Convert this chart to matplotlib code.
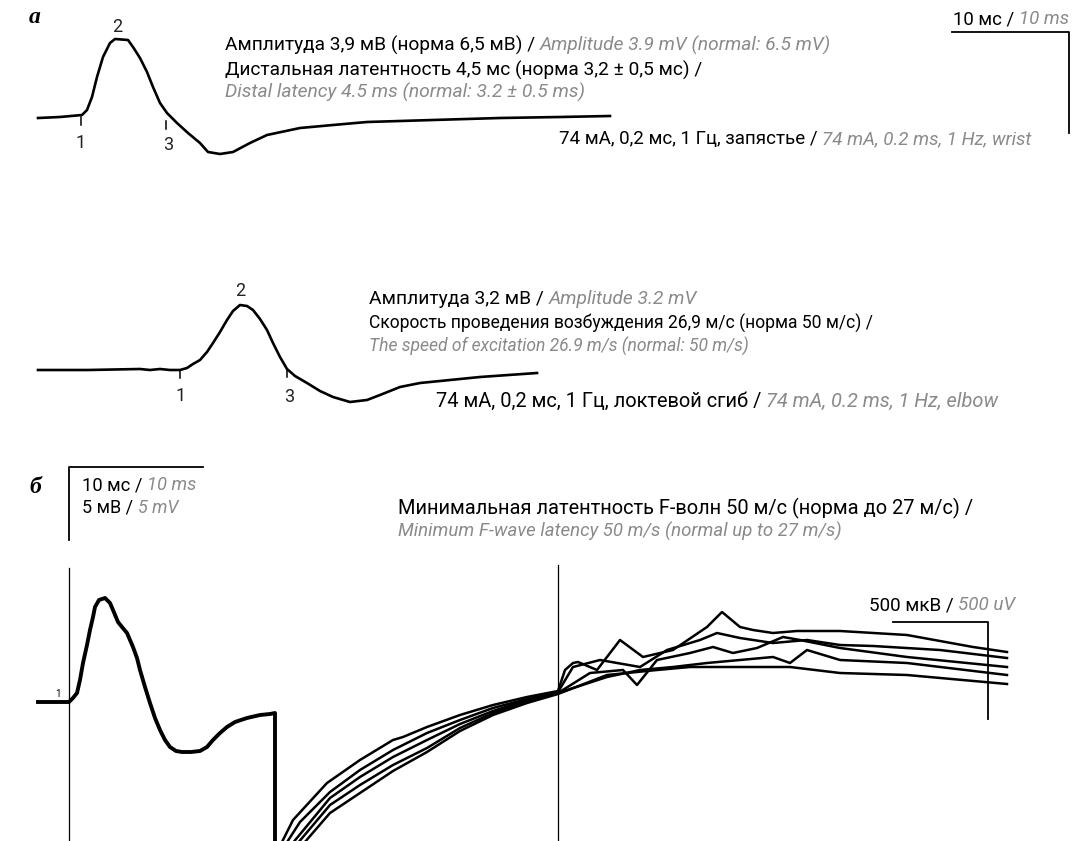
"""ENMG figure: motor responses (a) and F-waves (б)."""

import matplotlib
matplotlib.use("Agg")
import matplotlib.pyplot as plt

W, H = 1073, 841
FONT = ["Roboto", "DejaVu Sans"]
SERIF = ["Liberation Serif", "DejaVu Serif"]
GRAY = "#8a8a8a"
BASE_SIZE = 13.6

# --- panel a, stimulation at wrist (time axis in px, amplitude in px, y down)
wrist_x = [38, 60, 82, 87, 92, 97, 103, 110, 115, 128, 133, 140, 147, 153, 160, 167,
           177, 188, 200, 208, 220, 233, 250, 267, 300, 333, 367, 400, 433, 500, 560, 610]
wrist_y = [118, 117, 115, 110, 97, 77, 57, 43, 39, 40, 47, 58, 72, 87, 103, 113,
           123, 133, 143, 152, 154, 152, 143, 135, 128, 125, 122, 121, 120, 118, 117, 116]
wrist_marks_x = [81, 166]
wrist_marks_y = [117, 121]

# --- panel a, stimulation at elbow
elbow_x = [38, 88, 140, 150, 160, 170, 180, 187, 193, 200, 207, 213, 220, 227, 233, 240,
           247, 253, 260, 267, 273, 280, 287, 295, 307, 320, 333, 350, 367, 380, 400, 420,
           440, 480, 537]
elbow_y = [370, 370, 369, 370, 369, 370, 370, 368, 364, 360, 352, 343, 332, 320, 311, 305,
           306, 310, 319, 330, 343, 357, 369, 376, 383, 391, 397, 402, 400, 395, 387, 383,
           381, 377, 373]
elbow_marks_x = [180, 287]
elbow_marks_y = [370, 369]

# --- panel б, M-response
m_x = [38, 55, 69, 73, 77, 80, 83, 87, 90, 93, 95, 99, 105, 110, 113, 118, 122, 127,
       133, 137, 140, 145, 150, 155, 160, 165, 170, 176, 182, 191, 200, 207, 213, 220,
       227, 235, 247, 260, 270, 275, 275]
m_y = [702, 702, 702, 698, 693, 680, 663, 645, 630, 617, 607, 600, 598, 603, 610, 622,
       627, 633, 647, 658, 670, 687, 703, 718, 730, 740, 747, 751, 752, 752, 751, 747,
       740, 733, 727, 722, 718, 715, 714, 713, 860]

# --- panel б, F-waves (five superimposed sweeps)
f1_x = [278, 293, 327, 360, 393, 403, 427, 460, 493, 527, 558, 565, 573, 578, 597, 620,
        643, 673, 707, 722, 740, 753, 773, 797, 840, 907, 973, 1007]
f1_y = [850, 820, 783, 760, 740, 737, 727, 715, 705, 697, 691, 670, 663, 662, 670, 640,
        657, 650, 627, 612, 627, 630, 633, 631, 631, 635, 647, 652]
f2_x = [282, 300, 330, 360, 393, 427, 460, 493, 527, 558, 573, 600, 640, 667, 700, 717,
        740, 773, 807, 840, 873, 940, 1007]
f2_y = [850, 822, 792, 770, 750, 733, 720, 708, 699, 692, 667, 660, 667, 650, 640, 633,
        638, 643, 640, 645, 646, 650, 658]
f3_x = [287, 330, 360, 393, 427, 460, 493, 527, 558, 590, 623, 637, 657, 690, 713, 733,
        757, 783, 800, 840, 907, 1007]
f3_y = [850, 798, 777, 757, 740, 724, 711, 700, 693, 673, 670, 685, 660, 653, 647, 653,
        648, 637, 640, 648, 657, 667]
f4_x = [292, 330, 360, 393, 427, 460, 493, 527, 558, 607, 640, 673, 707, 740, 773, 790,
        807, 840, 907, 1007]
f4_y = [850, 805, 785, 765, 748, 728, 713, 701, 693, 677, 670, 667, 663, 660, 657, 663,
        650, 660, 663, 675]
f5_x = [298, 330, 360, 393, 427, 460, 493, 527, 558, 607, 657, 690, 740, 790, 840, 907, 1007]
f5_y = [850, 813, 793, 771, 752, 731, 715, 703, 694, 675, 670, 667, 667, 667, 673, 675, 684]
f_waves = [(f1_x, f1_y), (f2_x, f2_y), (f3_x, f3_y), (f4_x, f4_y), (f5_x, f5_y)]


def text_run(ax, x, y, parts, right, ha="left"):
    """Draw (text, is_english) parts on one baseline, roughly spanning x..right."""
    renderer = ax.figure.canvas.get_renderer()
    inv = ax.transData.inverted()

    def draw(size):
        artists = []
        cur = x
        for txt, eng in parts:
            t = ax.text(cur, y, txt, fontsize=size, va="baseline", ha="left",
                        color=GRAY if eng else "black",
                        style="italic" if eng else "normal", family=FONT)
            bb = t.get_window_extent(renderer)
            cur = inv.transform((bb.x1, bb.y0))[0]
            artists.append(t)
        return artists, cur

    trial, end = draw(BASE_SIZE)
    for t in trial:
        t.remove()
    size = BASE_SIZE * abs(right - x) / (end - x)
    size = min(max(size, BASE_SIZE * 0.93), BASE_SIZE * 1.06)
    artists, end = draw(size)
    if ha == "right":
        shift = end - x
        for t in artists:
            tx, ty = t.get_position()
            t.set_position((tx - shift, ty))


def main() -> None:
    fig = plt.figure(figsize=(W / 100, H / 100), dpi=100)
    ax = fig.add_axes([0, 0, 1, 1])
    ax.set_xlim(0, W)
    ax.set_ylim(H, 0)
    ax.axis("off")
    fig.canvas.draw()

    # panel labels
    ax.text(35, 17, "а", fontsize=17, fontweight="bold", style="italic",
            family=SERIF, ha="center", va="center")
    ax.text(35, 487, "б", fontsize=17, fontweight="bold", style="italic",
            family=SERIF, ha="center", va="center")

    # traces of panel a
    ax.plot(wrist_x, wrist_y, color="black", lw=1.9, solid_joinstyle="round")
    ax.plot(elbow_x, elbow_y, color="black", lw=1.9, solid_joinstyle="round")
    for mx, my in zip(wrist_marks_x, wrist_marks_y):
        ax.plot([mx, mx], [my, my + 8], color="black", lw=1.1)
    for mx, my in zip(elbow_marks_x, elbow_marks_y):
        ax.plot([mx, mx], [my, my + 8], color="black", lw=1.1)

    num_kw = dict(fontsize=13, family=FONT, ha="center", va="center", color="#222222")
    ax.text(81, 143, "1", **num_kw)
    ax.text(117, 27, "2", **num_kw)
    ax.text(168, 145, "3", **num_kw)
    ax.text(181, 396, "1", **num_kw)
    ax.text(240, 291, "2", **num_kw)
    ax.text(289, 397, "3", **num_kw)

    # scale bar panel a
    ax.plot([952, 1069, 1069], [32, 32, 133], color="black", lw=1.3)
    text_run(ax, 1069, 24, [("10 мс / ", False), ("10 ms", True)], right=953, ha="right")

    text_run(ax, 225, 51, [("Амплитуда 3,9 мВ (норма 6,5 мВ) / ", False),
                           ("Amplitude 3.9 mV (normal: 6.5 mV)", True)], right=832)
    text_run(ax, 225, 76, [("Дистальная латентность 4,5 мс (норма 3,2 ± 0,5 мс) /", False)],
             right=700)
    text_run(ax, 225, 98, [("Distal latency 4.5 ms (normal: 3.2 ± 0.5 ms)", True)], right=585)
    text_run(ax, 559, 144, [("74 мА, 0,2 мс, 1 Гц, запястье / ", False),
                            ("74 mA, 0.2 ms, 1 Hz, wrist", True)], right=1031)

    text_run(ax, 369, 304, [("Амплитуда 3,2 мВ / ", False), ("Amplitude 3.2 mV", True)],
             right=697)
    text_run(ax, 369, 329, [("Скорость проведения возбуждения 26,9 м/с (норма 50 м/с) /", False)],
             right=829)
    text_run(ax, 369, 352, [("The speed of excitation 26.9 m/s (normal: 50 m/s)", True)],
             right=670)
    text_run(ax, 436, 407, [("74 мА, 0,2 мс, 1 Гц, локтевой сгиб / ", False),
                            ("74 mA, 0.2 ms, 1 Hz, elbow", True)], right=1006)

    # panel б
    ax.plot([69, 69, 203], [540, 467, 467], color="black", lw=1.3)
    text_run(ax, 82, 490, [("10 мс / ", False), ("10 ms", True)], right=196)
    text_run(ax, 82, 513, [("5 мВ / ", False), ("5 mV", True)], right=178)
    text_run(ax, 398, 514, [("Минимальная латентность F-волн 50 м/с (норма до 27 м/с) /", False)],
             right=1013)
    text_run(ax, 398, 537, [("Minimum F-wave latency 50 m/s (normal up to 27 m/s)", True)],
             right=840)

    ax.plot([69, 69], [568, H], color="black", lw=0.9)
    ax.plot([558, 558], [565, H], color="black", lw=0.9)

    ax.plot(m_x, m_y, color="black", lw=2.8, solid_joinstyle="round")
    ax.text(58, 694, "1", fontsize=7, family=FONT, ha="center", va="center")
    for fx, fy in f_waves:
        ax.plot(fx, fy, color="black", lw=1.8, solid_joinstyle="round")

    ax.plot([893, 988, 988], [622, 622, 719], color="black", lw=1.3)
    text_run(ax, 869, 610, [("500 мкВ / ", False), ("500 uV", True)], right=1015)

    fig.savefig("out.png", dpi=100)
    plt.close(fig)


if __name__ == "__main__":
    main()
